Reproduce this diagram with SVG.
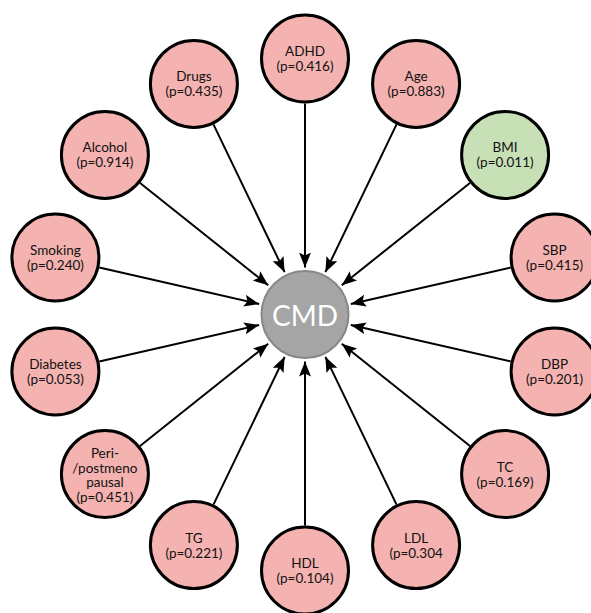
<svg xmlns="http://www.w3.org/2000/svg" width="591" height="613" viewBox="0 0 591 613">
<style>
.n{fill:#f4b2b0;stroke:#000;stroke-width:3}
.g{fill:#c7e0b6;stroke:#000;stroke-width:3}
.t{font-family:Lato,"Liberation Sans",sans-serif;font-size:13.5px;fill:#111;text-anchor:middle;dominant-baseline:central}
.e{stroke:#000;stroke-width:2;fill:none;marker-end:url(#ah)}
</style>
<defs>
<marker id="ah" markerUnits="userSpaceOnUse" markerWidth="17" markerHeight="13" refX="15" refY="6" orient="auto">
<path d="M0,0 L15,6 L0,12 L3,6 z" fill="#000"/>
</marker>
</defs>
<rect width="591" height="613" fill="#fff"/>
<g id="connectors">
<line class="e" x1="305" y1="103.5" x2="305" y2="267.5"/>
<line class="e" x1="396.55" y1="124.4" x2="325.39" y2="272.15"/>
<line class="e" x1="469.97" y1="182.94" x2="341.75" y2="285.2"/>
<line class="e" x1="510.71" y1="267.55" x2="350.82" y2="304.04"/>
<line class="e" x1="510.71" y1="361.45" x2="350.82" y2="324.96"/>
<line class="e" x1="469.97" y1="446.06" x2="341.75" y2="343.8"/>
<line class="e" x1="396.55" y1="504.6" x2="325.39" y2="356.85"/>
<line class="e" x1="305" y1="525.5" x2="305" y2="361.5"/>
<line class="e" x1="213.45" y1="504.6" x2="284.61" y2="356.85"/>
<line class="e" x1="140.03" y1="446.06" x2="268.25" y2="343.8"/>
<line class="e" x1="99.29" y1="361.45" x2="259.18" y2="324.96"/>
<line class="e" x1="99.29" y1="267.55" x2="259.18" y2="304.04"/>
<line class="e" x1="140.03" y1="182.94" x2="268.25" y2="285.2"/>
<line class="e" x1="213.45" y1="124.4" x2="284.61" y2="272.15"/>
</g>
<g id="cmd">
<circle cx="305" cy="314.5" r="43.5" fill="#a5a5a5" stroke="#878787" stroke-width="2"/>
<text x="305" y="315" style="font-family:Lato,'Liberation Sans',sans-serif;font-size:28px;fill:#fff;text-anchor:middle;dominant-baseline:central">CMD</text>
</g>
<g id="adhd"><circle class="n" cx="305" cy="58.5" r="43.5"/><text class="t" x="305" y="51">ADHD</text><text class="t" x="305" y="66">(p=0.416)</text></g>
<g id="age"><circle class="n" cx="416.1" cy="83.9" r="43.5"/><text class="t" x="416.1" y="76.4">Age</text><text class="t" x="416.1" y="91.4">(p=0.883)</text></g>
<g id="bmi"><circle class="g" cx="505.1" cy="154.9" r="43.5"/><text class="t" x="505.1" y="147.4">BMI</text><text class="t" x="505.1" y="162.4">(p=0.011)</text></g>
<g id="sbp"><circle class="n" cx="554.6" cy="257.5" r="43.5"/><text class="t" x="554.6" y="250">SBP</text><text class="t" x="554.6" y="265">(p=0.415)</text></g>
<g id="dbp"><circle class="n" cx="554.6" cy="371.5" r="43.5"/><text class="t" x="554.6" y="364">DBP</text><text class="t" x="554.6" y="379">(p=0.201)</text></g>
<g id="tc"><circle class="n" cx="505.1" cy="474.1" r="43.5"/><text class="t" x="505.1" y="466.6">TC</text><text class="t" x="505.1" y="481.6">(p=0.169)</text></g>
<g id="ldl"><circle class="n" cx="416.1" cy="545.1" r="43.5"/><text class="t" x="416.1" y="537.6">LDL</text><text class="t" x="416.1" y="552.6">(p=0.304</text></g>
<g id="hdl"><circle class="n" cx="305" cy="570.5" r="43.5"/><text class="t" x="305" y="563">HDL</text><text class="t" x="305" y="578">(p=0.104)</text></g>
<g id="tg"><circle class="n" cx="193.9" cy="545.1" r="43.5"/><text class="t" x="193.9" y="537.6">TG</text><text class="t" x="193.9" y="552.6">(p=0.221)</text></g>
<g id="peri"><circle class="n" cx="104.9" cy="474.1" r="43.5"/><text class="t" x="104.9" y="453">Peri-</text><text class="t" x="104.9" y="467.5">/postmeno</text><text class="t" x="104.9" y="482">pausal</text><text class="t" x="104.9" y="496.5">(p=0.451)</text></g>
<g id="diabetes"><circle class="n" cx="55.4" cy="371.5" r="43.5"/><text class="t" x="55.4" y="364">Diabetes</text><text class="t" x="55.4" y="379">(p=0.053)</text></g>
<g id="smoking"><circle class="n" cx="55.4" cy="257.5" r="43.5"/><text class="t" x="55.4" y="250">Smoking</text><text class="t" x="55.4" y="265">(p=0.240)</text></g>
<g id="alcohol"><circle class="n" cx="104.9" cy="154.9" r="43.5"/><text class="t" x="104.9" y="147.4">Alcohol</text><text class="t" x="104.9" y="162.4">(p=0.914)</text></g>
<g id="drugs"><circle class="n" cx="193.9" cy="83.9" r="43.5"/><text class="t" x="193.9" y="76.4">Drugs</text><text class="t" x="193.9" y="91.4">(p=0.435)</text></g>
</svg>
